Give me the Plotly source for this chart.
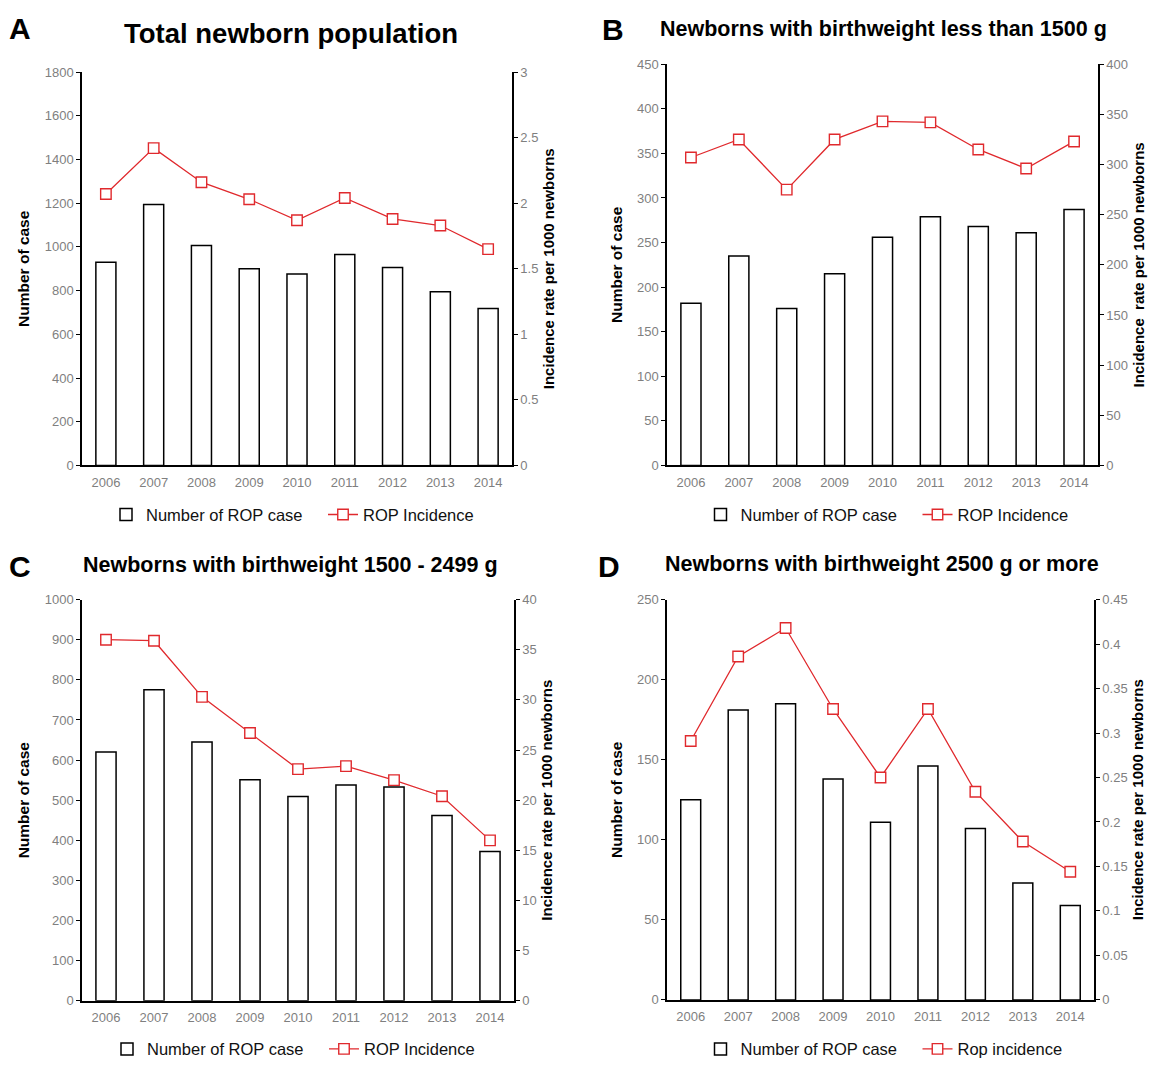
import plotly.graph_objects as go

years = ["2006", "2007", "2008", "2009", "2010", "2011", "2012", "2013", "2014"]

# Panel A: total newborn population
a_cases = [930, 1194, 1006, 900, 876, 965, 906, 795, 718]
a_rate = [2.07, 2.42, 2.16, 2.03, 1.87, 2.04, 1.88, 1.83, 1.65]

# Panel B: birthweight < 1500 g
b_cases = [182, 235, 176, 215, 256, 279, 268, 261, 287]
b_rate = [307, 325, 275, 325, 343, 342, 315, 296, 323]

# Panel C: birthweight 1500 - 2499 g
c_cases = [620, 775, 645, 551, 509, 538, 533, 462, 372]
c_rate = [36.0, 35.9, 30.3, 26.7, 23.1, 23.4, 22.0, 20.4, 16.0]

# Panel D: birthweight >= 2500 g
d_cases = [125, 181, 185, 138, 111, 146, 107, 73, 59]
d_rate = [0.291, 0.386, 0.418, 0.327, 0.250, 0.327, 0.234, 0.178, 0.144]

panels = [
    dict(letter="A", title="Total newborn population", cases=a_cases, rate=a_rate,
         lmax=1800, ldt=200, rmax=3, rdt=0.5, line_name="ROP Incidence",
         rtitle="Incidence rate per 1000 newborns", ltitle="Number of case"),
    dict(letter="B", title="Newborns with birthweight less than 1500 g", cases=b_cases, rate=b_rate,
         lmax=450, ldt=50, rmax=400, rdt=50, line_name="ROP Incidence",
         rtitle="Incidence  rate per 1000 newborns", ltitle="Number of case"),
    dict(letter="C", title="Newborns with birthweight 1500 - 2499 g", cases=c_cases, rate=c_rate,
         lmax=1000, ldt=100, rmax=40, rdt=5, line_name="ROP Incidence",
         rtitle="Incidence rate per 1000 newborns", ltitle="Number of case"),
    dict(letter="D", title="Newborns with birthweight 2500 g or more", cases=d_cases, rate=d_rate,
         lmax=250, ldt=50, rmax=0.45, rdt=0.05, line_name="Rop incidence",
         rtitle="Incidence rate per 1000 newborns", ltitle="Number of case"),
]

W, H = 1159, 1070
# pixel boxes of the plot areas: (left, right, top, bottom)
boxes = [(82, 512, 66, 465), (667, 1098, 58, 465), (82, 514, 601, 1008), (667, 1094, 601, 1007)]
title_pos = [(291, 27, 27.5), (883, 22, 21.5), (290, 566, 21.5), (882, 565, 21.5)]
letter_pos = [(20, 22), (613, 23), (20, 567), (609, 567)]
legend_y = [515, 515, 1057, 1057]
legend_dx = [26, 35, 26, 37]

FONT = "Liberation Sans, Arial, sans-serif"
GREY = "#7f7f7f"
RED = "#e0292d"

fig = go.Figure()
layout = dict(
    width=W, height=H, margin=dict(l=0, r=0, t=0, b=0),
    paper_bgcolor="white", plot_bgcolor="white",
    font=dict(family=FONT, color="black"),
    showlegend=True, annotations=[],
)

for i, p in enumerate(panels):
    n = i + 1
    xa = "x" if n == 1 else f"x{n}"
    yl = 2 * n - 1
    yr = 2 * n
    yla = "y" if yl == 1 else f"y{yl}"
    yra = f"y{yr}"
    leg = "legend" if n == 1 else f"legend{n}"
    L, R, T, B = boxes[i]
    xdom = [L / W, R / W]
    ydom = [1 - B / H, 1 - T / H]

    fig.add_trace(go.Bar(
        x=years, y=p["cases"], name="Number of ROP case", xaxis=xa, yaxis=yla,
        marker=dict(color="white", line=dict(color="black", width=1.5)),
        width=0.42, legend=leg, hoverinfo="x+y",
    ))
    fig.add_trace(go.Scatter(
        x=years, y=p["rate"], name=p["line_name"], xaxis=xa, yaxis=yra,
        mode="lines+markers",
        line=dict(color=RED, width=1.3),
        marker=dict(symbol="square", size=10.5, color="white", line=dict(color=RED, width=1.4)),
        legend=leg,
    ))

    xkey = "xaxis" if n == 1 else f"xaxis{n}"
    ylkey = "yaxis" if yl == 1 else f"yaxis{yl}"
    yrkey = f"yaxis{yr}"
    layout[xkey] = dict(
        domain=xdom, anchor=yla, type="category", range=[-0.5, 8.5],
        showline=True, linecolor="black", linewidth=1.5, ticks="", showgrid=False,
        tickfont=dict(size=13, color=GREY, family=FONT), zeroline=False, fixedrange=True,
        ticklabelstandoff=4,
    )
    layout[ylkey] = dict(
        domain=ydom, anchor=xa, range=[0, p["lmax"]], dtick=p["ldt"], tick0=0,
        showline=True, linecolor="black", linewidth=1.5, ticks="outside", ticklen=4,
        tickcolor="black", tickwidth=1, showgrid=False, zeroline=False,
        tickfont=dict(size=13, color=GREY, family=FONT),
        title=dict(text=p["ltitle"], font=dict(size=15.5, family=FONT, color="black", weight="bold"),
                   standoff=11),
    )
    layout[yrkey] = dict(
        domain=ydom, anchor=xa, overlaying=yla, side="right",
        range=[0, p["rmax"]], dtick=p["rdt"], tick0=0,
        showline=True, linecolor="black", linewidth=1.5, ticks="outside", ticklen=4,
        tickcolor="black", tickwidth=1, showgrid=False, zeroline=False,
        tickfont=dict(size=13, color=GREY, family=FONT),
        title=dict(text=p["rtitle"], font=dict(size=15, family=FONT, color="black", weight="bold"),
                   standoff=6),
    )
    layout[leg] = dict(
        orientation="h", x=((L + R) / 2 + legend_dx[i]) / W, xanchor="center",
        y=1 - legend_y[i] / H, yanchor="middle",
        font=dict(size=16.5, family=FONT, color="#111111"),
        bgcolor="rgba(0,0,0,0)", itemwidth=30, tracegroupgap=0,
        entrywidth=172,
    )
    tx, ty, ts = title_pos[i]
    layout["annotations"].append(dict(
        text=f"<b>{p['title']}</b>", x=tx / W, y=1 - ty / H, xref="paper", yref="paper",
        xanchor="center", yanchor="middle", showarrow=False,
        font=dict(size=ts, family=FONT, color="black"),
    ))
    lx, ly = letter_pos[i]
    layout["annotations"].append(dict(
        text=f"<b>{p['letter']}</b>", x=lx / W, y=1 - ly / H, xref="paper", yref="paper",
        xanchor="center", yanchor="middle", showarrow=False,
        font=dict(size=30, family=FONT, color="black"),
    ))

fig.update_layout(**layout)
fig.write_html("out.html", config={"displayModeBar": False},
               post_script="document.body.style.margin='0px';")
